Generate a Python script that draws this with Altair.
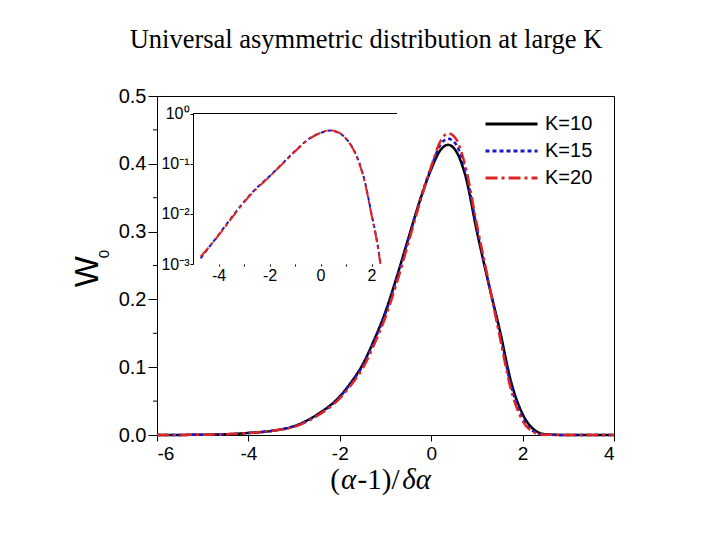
import altair as alt
import pandas as pd

# ---------------- data ----------------
series = ["K=10", "K=15", "K=20"]
colors = ["#000000", "#1818c8", "#e02424"]
dashes = [[1, 0], [4, 3], [12, 4, 3, 4]]

x_main = [-6.0, -5.0, -4.5, -4.0, -3.5, -3.0, -2.5, -2.0, -1.75, -1.5, -1.25, -1.0,
          -0.75, -0.5, -0.25, 0.0, 0.2, 0.37, 0.55, 0.75, 1.0, 1.25, 1.5, 1.75,
          2.0, 2.25, 2.5, 3.0, 4.0]
w_k10 = [0.0, 0.0004, 0.001, 0.003, 0.006, 0.013, 0.030, 0.057, 0.078, 0.104, 0.140, 0.182,
         0.234, 0.290, 0.345, 0.392, 0.420, 0.428, 0.418, 0.382, 0.300, 0.225, 0.155, 0.078,
         0.031, 0.008, 0.001, 0.0, 0.0]
w_k15 = [0.0, 0.0004, 0.001, 0.003, 0.006, 0.013, 0.029, 0.056, 0.077, 0.102, 0.138, 0.180,
         0.232, 0.289, 0.346, 0.395, 0.428, 0.437, 0.428, 0.389, 0.305, 0.226, 0.150, 0.072,
         0.026, 0.005, 0.0005, 0.0, 0.0]
w_k20 = [0.0, 0.0004, 0.001, 0.003, 0.006, 0.012, 0.028, 0.054, 0.074, 0.098, 0.133, 0.174,
         0.225, 0.283, 0.342, 0.396, 0.433, 0.445, 0.436, 0.396, 0.310, 0.228, 0.145, 0.066,
         0.021, 0.004, 0.0004, 0.0, 0.0]

# inset (log scale)
x_inset = [-4.7, -4.0, -3.5, -3.0, -2.5, -2.0, -1.5, -1.0, -0.5, 0.0, 0.35, 0.7, 1.0,
           1.25, 1.5, 1.75, 2.0, 2.2, 2.35]
wi_k15 = [0.0013, 0.0038, 0.0083, 0.0174, 0.033, 0.056, 0.100, 0.178, 0.300, 0.410, 0.457,
          0.417, 0.316, 0.210, 0.112, 0.042, 0.010, 0.0032, 0.0011]
wi_k20 = [0.0014, 0.0037, 0.0080, 0.0170, 0.032, 0.055, 0.098, 0.175, 0.296, 0.412, 0.462,
          0.420, 0.318, 0.208, 0.108, 0.040, 0.0095, 0.0030, 0.0010]

x_ticks = [-6, -4, -2, 0, 2, 4]
y_ticks = [0.0, 0.1, 0.2, 0.3, 0.4, 0.5]
y_minor = [0.05, 0.15, 0.25, 0.35, 0.45]
xi_ticks = [-4, -3, -2, -1, 0, 1, 2]
yi_ticks = [0.001, 0.01, 0.1, 1.0]

# ---------------- tables ----------------
rows = []
for name, vals in zip(series, [w_k10, w_k15, w_k20]):
    for xv, wv in zip(x_main, vals):
        rows.append({"x": xv, "W": wv, "K": name})
df_main = pd.DataFrame(rows)

rows = []
for name, vals in zip(series[1:], [wi_k15, wi_k20]):
    for xv, wv in zip(x_inset, vals):
        rows.append({"x": xv, "W": wv, "K": name})
df_inset = pd.DataFrame(rows)

legend = alt.Legend(title=None, orient="none", legendX=327, legendY=14.6,
                    symbolType="stroke", symbolSize=2704, symbolStrokeWidth=3,
                    labelFont="Liberation Sans", labelFontSize=20, labelColor="black",
                    labelOffset=6, clipHeight=26.7, rowPadding=0, padding=0)
color_enc = alt.Color("K:N", scale=alt.Scale(domain=series, range=colors), legend=legend)
dash_enc = alt.StrokeDash("K:N", scale=alt.Scale(domain=series, range=dashes), legend=legend)

main_lines = alt.Chart(df_main).mark_line(strokeWidth=2.5, interpolate="monotone").encode(
    x=alt.X("x:Q", scale=alt.Scale(domain=[-6, 4], nice=False),
            axis=alt.Axis(values=x_ticks, title=None, tickSize=6, labelFontSize=19,
                          labelPadding=3, grid=False, labelExpr="'' + datum.value")),
    y=alt.Y("W:Q", scale=alt.Scale(domain=[0, 0.5], nice=False),
            axis=alt.Axis(values=y_ticks, format=".1f", title=None, tickSize=9,
                          labelPadding=2, labelFontSize=20, grid=False)),
    color=color_enc,
    strokeDash=dash_enc,
)

minor = alt.Chart(pd.DataFrame({"W": y_minor})).mark_rule(color="black", strokeWidth=1).encode(
    y="W:Q", x=alt.value(0), x2=alt.value(-4)
)

main = alt.layer(main_lines, minor)

inset_lines = alt.Chart(df_inset).mark_line(strokeWidth=2, interpolate="monotone").encode(
    x=alt.X("x:Q", scale=alt.Scale(domain=[-5, 3], nice=False, range=[36, 240]),
            axis=alt.Axis(orient="bottom", offset=-171, values=xi_ticks, domain=False,
                          tickSize=2, labelFontSize=16, labelPadding=1, title=None, grid=False,
                          labelExpr="datum.value % 2 == 0 ? '' + datum.value : ''")),
    y=alt.Y("W:Q", scale=alt.Scale(type="log", domain=[0.001, 1], nice=False, range=[168, 17.5]),
            axis=alt.Axis(orient="left", offset=-36, values=yi_ticks, tickSize=3,
                          labelFontSize=16, labelPadding=1, title=None, grid=False,
                          labelExpr="datum.value >= 0.99 ? '10\u2070' : datum.value >= 0.099 ? '10\u207b\u00b9' : datum.value >= 0.0099 ? '10\u207b\u00b2' : '10\u207b\u00b3'")),
    color=alt.Color("K:N", scale=alt.Scale(domain=series, range=colors)),
    strokeDash=alt.StrokeDash("K:N", scale=alt.Scale(domain=series, range=dashes)),
)

inset_top = alt.Chart(pd.DataFrame({"x": [-5], "x2": [3], "W": [1.0]})).mark_rule(
    color="black", strokeWidth=1).encode(x="x:Q", x2="x2:Q", y="W:Q")

inset = alt.layer(inset_lines, inset_top)


def label(text, x, y, size, font, angle=0, style="normal", baseline="alphabetic"):
    return alt.Chart(pd.DataFrame({"t": [text]})).mark_text(
        font=font, fontSize=size, angle=angle, fontStyle=style, align="center",
        baseline=baseline, color="black").encode(text="t:N", x=alt.value(x), y=alt.value(y))


texts = [
    label("Universal asymmetric distribution at large K", 209, -47.7, 26.5, "Liberation Serif"),
    label("(", 178, 393, 29, "Liberation Serif"),
    label("\u03b1", 191.5, 393, 29, "Liberation Serif", style="italic"),
    label("-1)/", 221.5, 393, 29, "Liberation Serif"),
    label("\u03b4\u03b1", 259.5, 393, 29, "Liberation Serif", style="italic"),
    label("W", -69.5, 175.7, 33, "Liberation Sans", angle=270, baseline="middle"),
    label("0", -53, 158, 15, "Liberation Sans", angle=270, baseline="middle"),
]

chart = alt.layer(main, inset, *texts).resolve_scale(
    x="independent", y="independent"
).properties(
    width=457, height=339,
    autosize=alt.AutoSizeParams(type="none"),
    padding={"left": 157, "top": 96, "right": 106, "bottom": 105},
    background="white",
).configure_view(stroke="black", strokeWidth=1).configure_axis(
    domainColor="black", tickColor="black", labelColor="black",
    labelFont="Liberation Sans", domainWidth=1, tickWidth=1,
)

chart.save("out.html", embed_options={"renderer": "svg", "actions": False})
